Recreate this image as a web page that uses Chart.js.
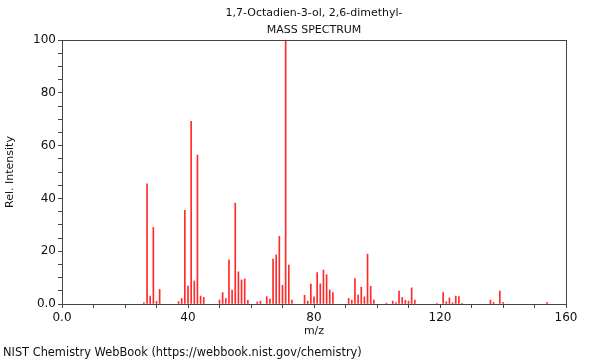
<!DOCTYPE html>
<html>
<head>
<meta charset="utf-8">
<script src="https://cdn.jsdelivr.net/npm/chart.js@4"></script>
<style>
  html, body { margin: 0; padding: 0; background: #fff; }
  #wrap { width: 600px; height: 360px; }
</style>
</head>
<body>
<div id="wrap"><canvas id="msChart" width="600" height="360"></canvas></div>
<script>
const titleLines = ['1,7-Octadien-3-ol, 2,6-dimethyl-', 'MASS SPECTRUM'];
const footerText = 'NIST Chemistry WebBook (https://webbook.nist.gov/chemistry)';

// m/z values and relative intensities
const mz = [26, 27, 28, 29, 30, 31, 37, 38, 39, 40, 41, 42, 43, 44, 45,
    50, 51, 52, 53, 54, 55, 56, 57, 58, 59, 62, 63, 65, 66, 67, 68, 69, 70, 71, 72, 73,
    77, 78, 79, 80, 81, 82, 83, 84, 85, 86, 91, 92, 93, 94, 95, 96, 97, 98, 99,
    103, 105, 106, 107, 108, 109, 110, 111, 112, 119, 121, 122, 123, 124, 125, 126, 127,
    136, 137, 139, 140, 154];
const intensity = [0.5, 45.5, 3.0, 29.0, 1.0, 5.5, 0.9, 2.1, 35.5, 6.8, 69.2, 8.7, 56.4, 3.0, 2.5,
    1.5, 4.3, 2.1, 16.7, 5.3, 38.2, 12.2, 9.1, 9.5, 1.4, 0.8, 1.1, 2.8, 1.9, 17.0, 18.6, 25.6, 7.1, 100, 14.8, 1.5,
    3.3, 1.1, 7.5, 2.7, 11.9, 7.6, 12.9, 11.1, 5.3, 4.3, 2.1, 1.5, 9.6, 3.4, 6.4, 2.7, 18.9, 6.7, 1.5,
    0.3, 1.1, 0.5, 4.9, 2.5, 1.4, 1.1, 6.1, 1.5, 0.3, 4.3, 0.8, 2.3, 0.5, 3.0, 2.8, 0.3,
    1.5, 0.6, 4.9, 0.6, 0.6];

const xMax = 160;
const yMax = 100;

const points = mz.map((m, i) => ({ x: m, y: intensity[i] }));

// frame round the plot area + title and footer text
const framePlugin = {
    id: 'frame',
    afterDraw(chart) {
        const { ctx, chartArea: a } = chart;
        ctx.save();
        ctx.strokeStyle = '#444';
        ctx.lineWidth = 1;
        ctx.strokeRect(Math.round(a.left) + 0.5, Math.round(a.top) + 0.5,
            Math.round(a.right - a.left), Math.round(a.bottom - a.top));
        ctx.fillStyle = '#111';
        ctx.font = '11px "DejaVu Sans"';
        ctx.textAlign = 'center';
        ctx.textBaseline = 'middle';
        const cx = (a.left + a.right) / 2;
        ctx.fillText(titleLines[0], cx, 13);
        ctx.fillText(titleLines[1], cx, 30);
        ctx.font = '11.4px "DejaVu Sans"';
        ctx.textAlign = 'left';
        ctx.fillText(footerText, 3, 353);
        ctx.restore();
    }
};

const ctx = document.getElementById('msChart').getContext('2d');

new Chart(ctx, {
    type: 'bar',
    data: {
        datasets: [{
            data: points,
            backgroundColor: '#ff2a2a',
            borderWidth: 0,
            barThickness: 1
        }]
    },
    options: {
        responsive: false,
        animation: false,
        layout: { padding: { top: 40, left: 0, right: 34, bottom: 20 } },
        scales: {
            x: {
                type: 'linear',
                min: 0,
                max: xMax,
                offset: false,
                afterFit: s => { s.height = 36; },
                grid: { display: true, drawOnChartArea: false, offset: false, color: '#444', tickLength: 4 },
                border: { display: true, color: '#444' },
                ticks: {
                    stepSize: 10,
                    autoSkip: false,
                    maxRotation: 0,
                    padding: 3,
                    color: '#111',
                    font: { family: 'DejaVu Sans', size: 12 },
                    callback: v => v % 40 === 0 ? (v === 0 ? '0.0' : v) : ''
                },
                title: { display: true, text: 'm/z', color: '#111', font: { family: 'DejaVu Sans', size: 11 }, padding: { top: 0, bottom: 2 } }
            },
            y: {
                min: 0,
                max: yMax,
                afterFit: s => { s.width = 62; },
                grid: { display: true, drawOnChartArea: false, color: '#444', tickLength: 4 },
                border: { display: true, color: '#444' },
                ticks: {
                    stepSize: 5,
                    autoSkip: false,
                    padding: 2,
                    color: '#111',
                    font: { family: 'DejaVu Sans', size: 12 },
                    callback: v => v % 20 === 0 ? (v === 0 ? '0.0' : v) : ''
                },
                title: { display: true, text: 'Rel. Intensity', color: '#111', font: { family: 'DejaVu Sans', size: 11 }, padding: { top: 4, bottom: 0 } }
            }
        },
        plugins: {
            legend: { display: false },
            tooltip: { enabled: false }
        }
    },
    plugins: [framePlugin]
});
</script>
</body>
</html>
